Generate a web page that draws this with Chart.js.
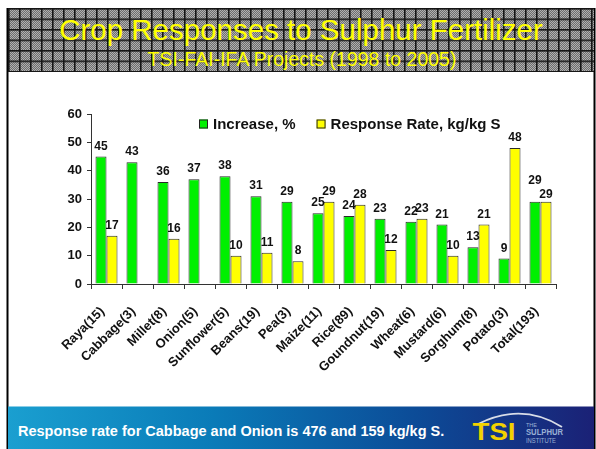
<!DOCTYPE html>
<html>
<head>
<meta charset="utf-8">
<script src="https://cdn.jsdelivr.net/npm/chart.js@4/dist/chart.umd.min.js"></script>
<style>
  html, body { margin: 0; padding: 0; background: #fff; overflow: hidden; }
  #wrap { position: relative; width: 596px; height: 449px; }
  #bg { position: absolute; left: 0; top: 0; }
  #chart { position: absolute; left: 0; top: 0; z-index: 2; }
</style>
</head>
<body>
<div id="wrap">
<svg id="bg" width="596" height="449" xmlns="http://www.w3.org/2000/svg">
  <defs>
    <pattern id="dither" width="2" height="2" patternUnits="userSpaceOnUse">
      <rect width="2" height="2" fill="#6e6e6e"/>
      <rect width="1" height="1" fill="#b0b0b0"/>
      <rect x="1" y="1" width="1" height="1" fill="#b0b0b0"/>
    </pattern>
    <pattern id="grid" x="8" y="8" width="11" height="10.5" patternUnits="userSpaceOnUse">
      <rect x="0" y="0" width="1.6" height="10.5" fill="#151515"/>
      <rect x="0" y="0" width="11" height="1.6" fill="#151515"/>
    </pattern>
    <linearGradient id="foot" x1="0" y1="0" x2="1" y2="0">
      <stop offset="0" stop-color="#1a9fd0"/>
      <stop offset="0.35" stop-color="#0a7bb8"/>
      <stop offset="0.7" stop-color="#0c4b97"/>
      <stop offset="1" stop-color="#1b2176"/>
    </linearGradient>
  </defs>
  <!-- slide frame -->
  <rect x="6.5" y="8" width="2" height="441" fill="#000"/>
  <rect x="593.5" y="8" width="2" height="441" fill="#000"/>
  <!-- header -->
  <rect x="8" y="8" width="586" height="64" fill="url(#dither)"/>
  <rect x="8" y="8" width="586" height="64" fill="url(#grid)"/>
  <text x="301" y="40" text-anchor="middle" font-family="Liberation Sans, Arial, sans-serif" font-size="29.5" fill="#ffff00">Crop Responses to Sulphur Fertilizer</text>
  <text x="302" y="66" text-anchor="middle" font-family="Liberation Sans, Arial, sans-serif" font-size="19.5" fill="#ffff00">TSI-FAI-IFA Projects (1998 to 2005)</text>
  <!-- footer -->
  <rect x="8" y="406.5" width="586" height="43" fill="url(#foot)"/>
  <text x="18" y="435.5" font-family="Liberation Sans, Arial, sans-serif" font-size="14.5" font-weight="bold" fill="#ffffff">Response rate for Cabbage and Onion is 476 and 159 kg/kg S.</text>
  <path d="M478 424 Q522 402 562 427" stroke="#d8dde8" stroke-width="1.8" fill="none"/>
  <text x="472.5" y="440" font-family="Liberation Sans, Arial, sans-serif" font-size="24" font-weight="bold" fill="#f2d200" textLength="43" lengthAdjust="spacingAndGlyphs">TSI</text>
  <text x="526" y="427" font-family="Liberation Sans, Arial, sans-serif" font-size="5.5" fill="#9ab0d4">THE</text>
  <text x="526" y="435" font-family="Liberation Sans, Arial, sans-serif" font-size="9" font-weight="bold" fill="#9ab0d4" textLength="37" lengthAdjust="spacingAndGlyphs">SULPHUR</text>
  <text x="526" y="443" font-family="Liberation Sans, Arial, sans-serif" font-size="7" fill="#9ab0d4" textLength="30" lengthAdjust="spacingAndGlyphs">INSTITUTE</text>
</svg>
<canvas id="chart" width="596" height="449"></canvas>
</div>
<script>
// ---- data ----
const categories = ['Raya(15)', 'Cabbage(3)', 'Millet(8)', 'Onion(5)', 'Sunflower(5)', 'Beans(19)', 'Pea(3)', 'Maize(11)', 'Rice(89)', 'Goundnut(19)', 'Wheat(6)', 'Mustard(6)', 'Sorghum(8)', 'Potato(3)', 'Total(193)'];
const increasePct = [45, 43, 36, 37, 38, 31, 29, 25, 24, 23, 22, 21, 13, 9, 29];
const responseRate = [17, null, 16, null, 10, 11, 8, 29, 28, 12, 23, 10, 21, 48, 29];
const seriesNames = ['Increase, %', 'Response Rate, kg/kg S'];
const yTicks = [0, 10, 20, 30, 40, 50, 60];

const FONT = 'Liberation Sans, Arial, sans-serif';

// value labels drawn above bars
const valueLabels = {
  id: 'valueLabels',
  afterDatasetsDraw(chart) {
    const ctx = chart.ctx;
    ctx.save();
    ctx.font = 'bold 12px ' + FONT;
    ctx.fillStyle = '#111';
    ctx.textAlign = 'center';
    ctx.textBaseline = 'alphabetic';
    const last = chart.data.labels.length - 1;
    chart.data.datasets.forEach((ds, di) => {
      const meta = chart.getDatasetMeta(di);
      meta.data.forEach((el, i) => {
        const v = ds.data[i];
        if (v === null || v === undefined) return;
        let off = 7;
        if (i === last) off = (di === 0) ? 17.5 : 3.5;
        ctx.fillText(String(v), el.x, el.y - off);
      });
    });
    ctx.restore();
  }
};

// legend drawn inside plot area
const innerLegend = {
  id: 'innerLegend',
  afterDraw(chart) {
    const ctx = chart.ctx;
    ctx.save();
    ctx.font = 'bold 15px ' + FONT;
    ctx.textBaseline = 'middle';
    ctx.textAlign = 'left';
    let x = 199;
    const cy = 124;
    chart.data.datasets.forEach((ds) => {
      ctx.fillStyle = ds.backgroundColor;
      ctx.fillRect(x, cy - 4.5, 9, 9);
      ctx.strokeStyle = '#222';
      ctx.lineWidth = 1;
      ctx.strokeRect(x + 0.5, cy - 4, 8, 8);
      ctx.fillStyle = '#111';
      ctx.fillText(ds.label, x + 14, cy + 0.5);
      x += 14 + ctx.measureText(ds.label).width + 21;
    });
    ctx.restore();
  }
};

new Chart(document.getElementById('chart'), {
  type: 'bar',
  data: {
    labels: categories,
    datasets: [
      { label: seriesNames[0], data: increasePct, backgroundColor: '#00f000', borderColor: '#2a2a2a', borderWidth: 1 },
      { label: seriesNames[1], data: responseRate, backgroundColor: '#ffff00', borderColor: '#2a2a2a', borderWidth: 1 }
    ]
  },
  options: {
    responsive: false,
    animation: false,
    devicePixelRatio: 1,
    layout: { padding: { left: 0, top: 114, right: 40, bottom: 0 } },
    datasets: { bar: { categoryPercentage: 0.71, barPercentage: 1.0 } },
    plugins: {
      legend: { display: false },
      tooltip: { enabled: false },
      title: { display: false }
    },
    scales: {
      x: {
        afterFit(scale) { scale.height = 165; },
        grid: { display: true, drawOnChartArea: false, offset: true, tickLength: 5, color: '#333', lineWidth: 1 },
        border: { display: true, color: '#333', width: 1 },
        ticks: {
          autoSkip: false, maxRotation: 45, minRotation: 45, padding: 15, labelOffset: -4,
          color: '#111', font: { family: FONT, size: 13, weight: 'bold' }
        }
      },
      y: {
        min: 0, max: 60,
        afterFit(scale) { scale.width = 91; },
        afterBuildTicks(scale) { scale.ticks = yTicks.map(v => ({ value: v })); },
        grid: { display: true, drawOnChartArea: false, tickLength: 4, color: '#333' },
        border: { display: true, color: '#333', width: 1 },
        ticks: {
          padding: 5, color: '#111',
          font: { family: FONT, size: 13, weight: 'bold' }
        }
      }
    }
  },
  plugins: [valueLabels, innerLegend]
});
</script>
</body>
</html>
